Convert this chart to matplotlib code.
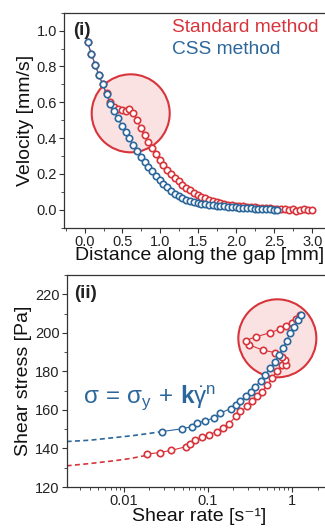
import matplotlib
matplotlib.use("Agg")
import matplotlib.pyplot as plt
import numpy as np
from matplotlib.patches import Ellipse
from matplotlib.ticker import MultipleLocator, LogLocator, NullFormatter, FixedLocator, FixedFormatter

plt.rcParams["font.family"] = ["Liberation Sans", "DejaVu Sans"]
plt.rcParams["mathtext.fontset"] = "custom"
plt.rcParams["mathtext.rm"] = "Liberation Sans"
plt.rcParams["mathtext.it"] = "Liberation Sans"
plt.rcParams["mathtext.bf"] = "Liberation Sans:bold"

RED = "#d8343b"
BLUE = "#2c679c"
PINK = "#fbe2e2"

# ---- panel (i): velocity profiles ----
dist_css = [0.04, 0.09, 0.14, 0.19, 0.24, 0.29, 0.34, 0.39, 0.44, 0.49,
            0.54, 0.59, 0.64, 0.69, 0.74, 0.79, 0.84, 0.89, 0.94, 0.99,
            1.04, 1.09, 1.14, 1.19, 1.24, 1.29, 1.34, 1.39, 1.44, 1.49,
            1.54, 1.59, 1.64, 1.69, 1.74, 1.79, 1.84, 1.89, 1.94, 1.99,
            2.04, 2.09, 2.14, 2.19, 2.24, 2.29, 2.34, 2.39, 2.44, 2.49, 2.54]
vel_css = [0.935, 0.87, 0.81, 0.75, 0.70, 0.645, 0.59, 0.55, 0.51, 0.47,
           0.435, 0.40, 0.36, 0.327, 0.295, 0.265, 0.24, 0.215, 0.19, 0.165,
           0.145, 0.125, 0.105, 0.09, 0.077, 0.066, 0.057, 0.05, 0.043, 0.038,
           0.034, 0.031, 0.028, 0.026, 0.023, 0.021, 0.019, 0.017, 0.015, 0.013,
           0.012, 0.011, 0.009, 0.008, 0.007, 0.005, 0.006, 0.003, 0.002, 0.001, 0.001]

dist_std = [0.04, 0.09, 0.14, 0.19, 0.24, 0.29, 0.34, 0.39, 0.44, 0.49,
            0.54, 0.59, 0.64, 0.69, 0.74, 0.79, 0.84, 0.89, 0.94, 0.99,
            1.04, 1.09, 1.14, 1.19, 1.24, 1.29, 1.34, 1.39, 1.44, 1.49,
            1.54, 1.59, 1.64, 1.69, 1.74, 1.79, 1.84, 1.89, 1.94, 1.99,
            2.04, 2.09, 2.14, 2.19, 2.24, 2.29, 2.34, 2.39, 2.44, 2.49,
            2.54, 2.59, 2.64, 2.69, 2.74, 2.79, 2.84, 2.89, 2.94, 2.99]
vel_std = [0.935, 0.87, 0.81, 0.75, 0.70, 0.65, 0.60, 0.572, 0.563, 0.558,
           0.554, 0.565, 0.54, 0.50, 0.455, 0.415, 0.38, 0.345, 0.31, 0.278,
           0.248, 0.222, 0.197, 0.176, 0.158, 0.14, 0.123, 0.108, 0.096, 0.085,
           0.073, 0.063, 0.055, 0.048, 0.042, 0.037, 0.032, 0.029, 0.026, 0.023,
           0.021, 0.019, 0.018, 0.016, 0.014, 0.012, 0.011, 0.009, 0.008, 0.006,
           0.005, 0.004, 0.003, 0.000, 0.002, -0.005, -0.003, 0.002, 0.000, 0.001]

# ---- panel (ii): flow curves ----
rate_css = [0.0286, 0.049, 0.065, 0.0744, 0.091, 0.117, 0.138, 0.185, 0.212,
            0.243, 0.279, 0.32, 0.366, 0.42, 0.48, 0.54, 0.62, 0.69, 0.78,
            0.855, 0.94, 1.045, 1.18, 1.26]
stress_css = [148.8, 150.2, 151.4, 153.1, 154.4, 155.7, 158.3, 160.6, 162.6,
              164.7, 167.0, 169.5, 172.1, 175.1, 178.2, 181.7, 184.8, 188.6, 192.3,
              195.8, 199.8, 203.2, 206.7, 209.3]
rate_css_fit = [0.0021, 0.004, 0.0076, 0.013, 0.02, 0.0286]
stress_css_fit = [143.6, 144.3, 145.6, 146.7, 147.8, 148.8]

rate_std = [0.019, 0.0268, 0.0366, 0.0545, 0.061, 0.071, 0.085, 0.102, 0.128,
            0.151, 0.177, 0.212, 0.243, 0.292, 0.335, 0.384, 0.44, 0.505, 0.578,
            0.66, 0.76, 0.85, 0.83, 0.76,
            0.63, 0.45, 0.31, 0.279,
            0.376, 0.54, 0.71, 0.85, 1.0, 1.1, 1.23]
stress_std = [137.1, 137.9, 139.0, 140.9, 142.4, 144.5, 145.7, 147.1, 148.8,
              150.6, 152.6, 156.6, 159.2, 161.8, 164.4, 167.0, 169.5, 173.0, 176.5,
              180.3, 183.4, 183.4, 186.0, 187.4,
              189.7, 191.0, 193.7, 196.0,
              198.0, 200.0, 201.9, 203.6, 205.3, 207.0, 209.3]
rate_std_fit = [0.0021, 0.004, 0.0076, 0.012, 0.019]
stress_std_fit = [131.0, 132.2, 133.6, 134.8, 136.5]


def add_highlight(ax, cx, cy, r_px):
    """Circle of radius r_px pixels centred at axes fraction (cx, cy)."""
    bb = ax.get_window_extent()
    w = 2 * r_px / bb.width
    h = 2 * r_px / bb.height
    ax.add_patch(Ellipse((cx, cy), w, h, transform=ax.transAxes,
                         facecolor=PINK, edgecolor=RED, lw=1.5, zorder=1))


def style_axes(ax):
    for s in ax.spines.values():
        s.set_color("#333333")
        s.set_linewidth(0.9)
    ax.tick_params(which="both", direction="out", colors="#333333",
                   labelsize=10.5, labelcolor="#222222", top=False, right=False)
    ax.tick_params(which="major", length=3.5, width=0.8, pad=1.5)
    ax.tick_params(which="minor", length=2, width=0.6)


fig = plt.figure(figsize=(3.25, 5.30), dpi=100)

mk = dict(marker="o", ms=4.6, mfc="white", mew=1.2, lw=0.8, zorder=3)

# top panel
ax1 = fig.add_axes([0.197, 0.5704, 0.834, 0.4056])
ax1.plot(dist_std, vel_std, color=RED, mec=RED, **mk)
ax1.plot(dist_css, vel_css, color=BLUE, mec=BLUE, **mk)
ax1.set_xlim(-0.27, 3.3)
ax1.set_ylim(-0.1, 1.1)
ax1.xaxis.set_major_locator(FixedLocator([0, 0.5, 1.0, 1.5, 2.0, 2.5, 3.0]))
ax1.xaxis.set_minor_locator(MultipleLocator(0.25))
ax1.yaxis.set_major_locator(FixedLocator([0, 0.2, 0.4, 0.6, 0.8, 1.0]))
ax1.yaxis.set_minor_locator(MultipleLocator(0.1))
ax1.xaxis.set_major_formatter(FixedFormatter(["0.0", "0.5", "1.0", "1.5", "2.0", "2.5", "3.0"]))
ax1.yaxis.set_major_formatter(FixedFormatter(["0.0", "0.2", "0.4", "0.6", "0.8", "1.0"]))
style_axes(ax1)
ax1.set_xlabel("Distance along the gap [mm]", fontsize=14, labelpad=-1, color="#111111")
ax1.set_ylabel("Velocity [mm/s]", fontsize=14, labelpad=2, color="#111111")
ax1.text(0.033, 0.955, "(i)", transform=ax1.transAxes, fontsize=13.5,
         fontweight="bold", va="top", ha="left", color="#222222")
ax1.text(0.398, 0.93, "Standard method", transform=ax1.transAxes, fontsize=13.8,
         color=RED, va="center", ha="left")
ax1.text(0.398, 0.83, "CSS method", transform=ax1.transAxes, fontsize=13.8,
         color=BLUE, va="center", ha="left")
fig.canvas.draw()
add_highlight(ax1, 0.246, 0.532, 39)

# bottom panel
ax2 = fig.add_axes([0.205, 0.0811, 0.818, 0.4])
ax2.set_xscale("log")
ax2.plot(rate_css_fit, stress_css_fit, color=BLUE, ls=(0, (3, 2)), lw=1.2, zorder=2)
ax2.plot(rate_std_fit, stress_std_fit, color=RED, ls=(0, (3, 2)), lw=1.2, zorder=2)
ax2.plot(rate_std, stress_std, color=RED, mec=RED, **mk)
ax2.plot(rate_css, stress_css, color=BLUE, mec=BLUE, **mk)
ax2.set_xlim(0.0021, 3)
ax2.set_ylim(120, 230)
ax2.xaxis.set_major_locator(FixedLocator([0.01, 0.1, 1]))
ax2.xaxis.set_major_formatter(FixedFormatter(["0.01", "0.1", "1"]))
ax2.xaxis.set_minor_locator(LogLocator(base=10, subs=np.arange(2, 10)))
ax2.xaxis.set_minor_formatter(NullFormatter())
ax2.yaxis.set_major_locator(MultipleLocator(20))
ax2.yaxis.set_minor_locator(MultipleLocator(10))
style_axes(ax2)
ax2.set_xlabel("Shear rate [s\u207b\u00b9]", fontsize=14, labelpad=0, color="#111111")
ax2.set_ylabel("Shear stress [Pa]", fontsize=14, labelpad=2, color="#111111")
ax2.text(0.03, 0.955, "(ii)", transform=ax2.transAxes, fontsize=13.5,
         fontweight="bold", va="top", ha="left", color="#222222")
ax2.text(0.06, 0.42, r"$\sigma\,=\,\sigma_y\,+\,\mathbf{k}\dot{\gamma}^n$",
         transform=ax2.transAxes, fontsize=17.5, color=BLUE, va="center", ha="left")
fig.canvas.draw()
add_highlight(ax2, 0.7926, 0.7014, 39)

fig.savefig("out.png", dpi=100)
